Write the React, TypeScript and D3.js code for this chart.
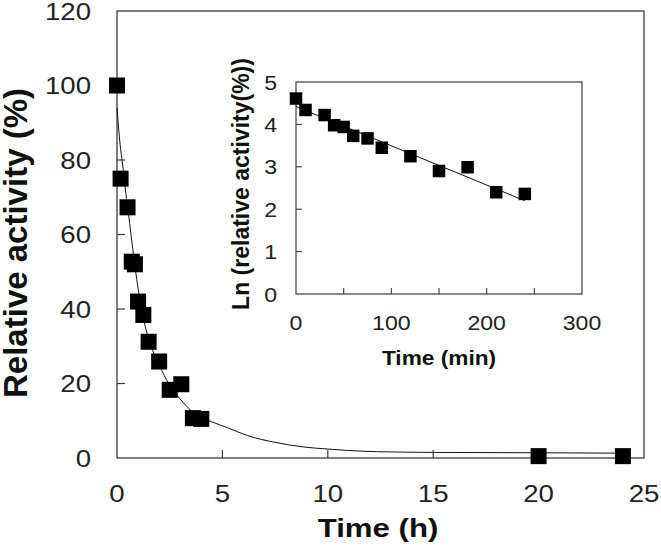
import React from "react";
import * as d3 from "d3";

// Main plot data: time (h) vs relative activity (%)
const timeH = [0, 0.17, 0.5, 0.7, 0.85, 1.0, 1.25, 1.5, 2.0, 2.5, 3.05, 3.6, 4.0, 20, 24];
const activity = [100, 75, 67.3, 52.7, 52, 42, 38.4, 31.2, 25.9, 18.3, 19.8, 10.7, 10.5, 0.5, 0.5];

// Fitted curve
const fitT = [0, 0.15, 0.25, 0.4, 0.6, 0.75, 1.0, 1.25, 1.5, 2.0, 2.5, 3.0, 3.5, 4.0, 4.5, 5.3, 6.2, 7.5, 8.8, 10, 11, 12.3, 15, 20, 24];
const fitV = [94, 84, 79.5, 72, 63, 56, 45.5, 37.5, 32, 25, 19.5, 15.8, 12.8, 10.8, 9.7, 8.0, 6.0, 4.2, 3.0, 2.4, 2.0, 1.7, 1.5, 1.4, 1.3];

// Inset data: time (min) vs ln(relative activity)
const timeMin = [0, 10, 30, 40, 50, 60, 75, 90, 120, 150, 180, 210, 240];
const lnActivity = [4.61, 4.34, 4.22, 3.98, 3.94, 3.73, 3.67, 3.45, 3.25, 2.9, 2.99, 2.4, 2.36];
const lnFitT = [0, 240];
const lnFitV = [4.42, 2.2];

// Ticks
const mainXTicks = [0, 5, 10, 15, 20, 25];
const mainYTicks = [0, 20, 40, 60, 80, 100, 120];
const insetXTickMarks = [50, 100, 150, 200, 250];
const insetXLabels = [0, 100, 200, 300];
const insetYTicks = [0, 1, 2, 3, 4, 5];

const W = 661;
const H = 550;
const M = { left: 117, right: 644, top: 11, bottom: 458 };
const I = { left: 296, right: 582, top: 82, bottom: 294 };
const FONT = "'Liberation Sans', Arial, sans-serif";
const AXIS = "#3a3a3a";

export default function App() {
  const x = d3.scaleLinear().domain([0, 25]).range([M.left, M.right]);
  const y = d3.scaleLinear().domain([0, 120]).range([M.bottom, M.top]);
  const xi = d3.scaleLinear().domain([0, 300]).range([I.left, I.right]);
  const yi = d3.scaleLinear().domain([0, 5]).range([I.bottom, I.top]);

  const fitLine = d3
    .line<number>()
    .x((_, i) => x(fitT[i]))
    .y((d) => y(d))
    .curve(d3.curveMonotoneX)(fitV) as string;

  const lnLine = d3
    .line<number>()
    .x((_, i) => xi(lnFitT[i]))
    .y((d) => yi(d))(lnFitV) as string;

  const ms = 16;
  const is = 12.5;

  return (
    <svg
      width={W}
      height={H}
      style={{ position: "absolute", left: 0, top: 0, background: "#fff" }}
      fontFamily={FONT}
    >
      <rect x={0} y={0} width={W} height={H} fill="#fff" />
      {/* main frame */}
      <rect
        x={M.left}
        y={M.top}
        width={M.right - M.left}
        height={M.bottom - M.top}
        fill="none"
        stroke={AXIS}
        strokeWidth={1.3}
      />
      {/* main ticks */}
      {mainXTicks.slice(1, -1).map((t) => (
        <line key={"mx" + t} x1={x(t)} x2={x(t)} y1={M.bottom} y2={M.bottom - 8} stroke={AXIS} strokeWidth={1.2} />
      ))}
      {mainYTicks.slice(1, -1).map((t) => (
        <line key={"my" + t} x1={M.left} x2={M.left + 8} y1={y(t)} y2={y(t)} stroke={AXIS} strokeWidth={1.2} />
      ))}
      {/* main tick labels */}
      {mainXTicks.map((t) => (
        <text
          key={"mxl" + t}
          transform={`translate(${x(t)},${502}) scale(1.15,1)`}
          textAnchor="middle"
          fontSize={24}
          fill="#222"
        >
          {t}
        </text>
      ))}
      {mainYTicks.map((t) => (
        <text
          key={"myl" + t}
          transform={`translate(${91},${y(t) + 8.5}) scale(1.15,1)`}
          textAnchor="end"
          fontSize={24}
          fill="#222"
        >
          {t}
        </text>
      ))}
      {/* main titles */}
      <text
        transform={`translate(378,537) scale(1.2,1)`}
        textAnchor="middle"
        fontSize={26}
        fontWeight="bold"
        fill="#111"
      >
        Time (h)
      </text>
      <text
        transform={`translate(27,243) rotate(-90)`}
        textAnchor="middle"
        fontSize={33}
        fontWeight="bold"
        fill="#111"
      >
        Relative activity (%)
      </text>
      {/* fitted curve */}
      <path d={fitLine} fill="none" stroke="#111" strokeWidth={1} />
      {/* main markers */}
      {timeH.map((t, i) => (
        <rect key={"m" + i} x={x(t) - ms / 2} y={y(activity[i]) - ms / 2} width={ms} height={ms} fill="#000" />
      ))}

      {/* inset */}
      <rect
        x={I.left}
        y={I.top}
        width={I.right - I.left}
        height={I.bottom - I.top}
        fill="#fff"
        stroke={AXIS}
        strokeWidth={1.2}
      />
      {insetXTickMarks.map((t) => (
        <line key={"ix" + t} x1={xi(t)} x2={xi(t)} y1={I.bottom} y2={I.bottom - 6} stroke={AXIS} strokeWidth={1.1} />
      ))}
      {insetYTicks.slice(1, -1).map((t) => (
        <line key={"iy" + t} x1={I.left} x2={I.left + 6} y1={yi(t)} y2={yi(t)} stroke={AXIS} strokeWidth={1.1} />
      ))}
      {insetXLabels.map((t) => (
        <text
          key={"ixl" + t}
          transform={`translate(${xi(t)},${330}) scale(1.1,1)`}
          textAnchor="middle"
          fontSize={21}
          fill="#222"
        >
          {t}
        </text>
      ))}
      {insetYTicks.map((t) => (
        <text
          key={"iyl" + t}
          transform={`translate(${277},${yi(t) + 7.5}) scale(1.1,1)`}
          textAnchor="end"
          fontSize={21}
          fill="#222"
        >
          {t}
        </text>
      ))}
      <text
        transform={`translate(439,365) scale(1.08,1)`}
        textAnchor="middle"
        fontSize={21}
        fontWeight="bold"
        fill="#111"
      >
        Time (min)
      </text>
      <text
        transform={`translate(249,184) rotate(-90)`}
        textAnchor="middle"
        fontSize={23}
        fontWeight="bold"
        fill="#111"
      >
        Ln (relative activity(%))
      </text>
      <path d={lnLine} fill="none" stroke="#111" strokeWidth={1} />
      {timeMin.map((t, i) => (
        <rect key={"i" + i} x={xi(t) - is / 2} y={yi(lnActivity[i]) - is / 2} width={is} height={is} fill="#000" />
      ))}
    </svg>
  );
}
